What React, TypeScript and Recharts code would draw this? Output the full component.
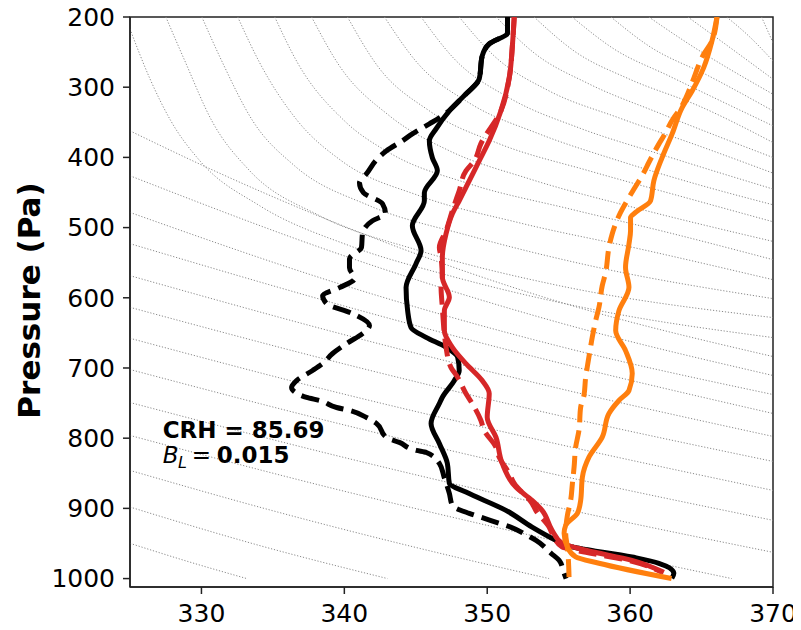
import React from 'react';
import { LineChart, Line, XAxis, YAxis, ReferenceArea } from 'recharts';

type Pt = [number, number]; // [MSE (K), pressure]

const xTicks = [330, 340, 350, 360, 370];
const pTicks = [200, 300, 400, 500, 600, 700, 800, 900, 1000];
const yLabel = 'Pressure (Pa)';
const crhText = 'CRH = 85.69';
const blText = '0.015';

const blackSolid: Pt[] = [
  [351.42, 200], [351.42, 222.3], [350.14, 238.4], [349.65, 255.5], [349.44, 288.2],
  [348.51, 309.5], [347.35, 333.7], [346.42, 359.3], [345.95, 376.4], [346.16, 400.6],
  [346.51, 419.1], [345.6, 450.4], [345.6, 461.8], [344.76, 497.3], [345.37, 532.9],
  [345.02, 551.4], [344.32, 585.5], [344.43, 618.3], [344.67, 642.5], [345.72, 656.3],
  [347.12, 670.5], [347.93, 684.7], [348.04, 703.6], [347.7, 717.9], [346.86, 741.6],
  [346.65, 750.6], [346.07, 779.0], [346.65, 807.5], [347.21, 835.9], [347.35, 864.4],
  [348.51, 876.8], [351.31, 902.8], [353.14, 926.6], [354.8, 945.5], [355.5, 952.6],
  [360.13, 969.3], [362.01, 978.2], [363.06, 992.4], [362.92, 999.5],
];

const blackDashed: Pt[] = [
  [351.42, 200], [351.42, 222.3], [350.14, 238.4], [349.65, 255.5], [349.44, 288.2],
  [348.4, 312], [346.65, 343.7], [345.95, 352.2], [344.76, 366.5], [344.06, 376.4],
  [342.95, 390.6], [342.32, 402.0], [341.55, 423.4], [341.06, 436.2], [341.34, 450.4],
  [342.67, 466.0], [342.88, 480.3], [341.97, 490.2], [341.27, 508.7], [341.2, 528.2],
  [340.36, 544.3], [340.36, 557.1], [340.71, 572.7], [339.66, 585.5], [338.48, 596.9],
  [338.76, 608.3], [340.57, 622.5], [341.76, 639.6], [341.27, 651.0], [340.15, 665.2],
  [339.18, 679.4], [338.48, 693.7], [337.78, 703.6], [336.66, 717.9], [336.31, 727.8],
  [337.36, 742.0], [338.27, 746.3], [339.46, 756.3], [340.36, 760.5], [341.55, 770.5],
  [342.25, 779.0], [342.95, 798.9], [343.85, 806.0], [345.04, 817.4], [345.74, 820.3],
  [346.65, 835.9], [346.99, 855.8], [347.35, 878.6], [347.56, 895.7], [348.74, 907.1],
  [349.58, 912.8], [350.84, 921.3], [351.68, 927.0], [352.79, 938.4], [353.42, 945.5],
  [354.47, 964.0], [355.03, 974.0], [355.38, 992.5], [355.52, 1000],
];

const redSolid: Pt[] = [
  [351.89, 200], [351.77, 238.4], [351.54, 286.8], [350.96, 333.7], [350.14, 376.4],
  [349.44, 404.9], [348.51, 442.8], [348.04, 461.8], [347.56, 480.3], [347.12, 508.7],
  [346.86, 542.4], [346.86, 570.9], [347.35, 599.3], [347.0, 618.3], [347.0, 646.7],
  [347.56, 670.5], [348.51, 693.7], [349.65, 717.9], [350.14, 736.3], [350.0, 770.1],
  [350.61, 798.5], [351.05, 835.9], [352.0, 869.7], [353.14, 888.6], [353.84, 902.8],
  [354.54, 931.3], [355.24, 949.7], [356.91, 959.7], [360.13, 974.0], [362.36, 991.0],
];

const redDashed: Pt[] = [
  [351.89, 200], [351.77, 238.4], [351.54, 286.8], [350.96, 333.7], [349.55, 380.7],
  [349.09, 404.9], [348.51, 419.1], [348.04, 447.5], [347.56, 476.0], [347.12, 504.5],
  [346.65, 528.2], [346.77, 542.4], [346.86, 570.9], [346.77, 585.1], [346.86, 613.6],
  [347.0, 651.0], [347.12, 670.5], [347.46, 699.0], [347.93, 713.2], [348.51, 736.3],
  [348.95, 750.6], [349.56, 774.8], [349.79, 789.0], [350.61, 812.7], [350.84, 827.0],
  [351.54, 850.2], [351.89, 864.4], [353.14, 892.8], [353.4, 902.8], [354.33, 926.6],
  [354.54, 935.5], [355.24, 955.0], [356.91, 962.5], [360.13, 975.4], [362.22, 991.0],
];

const orangeSolid: Pt[] = [
  [366.08, 200], [365.73, 234.1], [365.15, 272.1], [364.34, 305.3], [363.64, 329.0],
  [362.94, 366.5], [362.24, 400.2], [361.66, 433.3], [361.43, 461.8], [360.38, 478.4],
  [360.03, 485.5], [360.03, 504.5], [359.92, 523.4], [359.68, 556.7], [359.92, 585.1],
  [359.22, 618.3], [358.99, 646.7], [359.68, 675.2], [360.15, 707.9], [359.92, 732.1],
  [359.22, 746.3], [358.52, 764.8], [358.05, 798.5], [357.12, 827.0], [356.66, 855.4],
  [356.54, 888.6], [356.31, 907.1], [355.49, 924.1], [355.38, 935.5], [355.61, 955.0],
  [356.19, 969.2], [357.82, 978.2], [362.9, 1000],
];

const orangeDashed: Pt[] = [
  [366.08, 200], [365.73, 234.1], [365.15, 253.1], [364.34, 293.5], [364.11, 305.3],
  [363.41, 333.7], [363.06, 343.3], [362.36, 369.3], [362.01, 381.1], [361.31, 407.3],
  [360.96, 421.5], [360.27, 445.1], [359.92, 457.1], [359.22, 483.1], [358.75, 508.7],
  [358.52, 528.2], [358.29, 563.8], [358.05, 582.7], [357.82, 613.6], [357.59, 632.5],
  [357.35, 656.3], [357.23, 670.5], [357.0, 698.9], [356.89, 713.2], [356.77, 739.2],
  [356.54, 755.8], [356.42, 789.0], [356.19, 812.7], [356.08, 841.2], [355.96, 864.8],
  [355.84, 888.6], [355.61, 909.9], [355.49, 935.9], [355.61, 955.0], [355.73, 1000],
];

const guideCurves: Pt[][] = [
  [[325.0, 949.8], [329.09, 975.9], [333.17, 1000]],
  [[325.0, 898.1], [334.01, 952.6], [343.02, 1000]],
  [[325.0, 845.9], [334.78, 902.2], [344.55, 953.4], [354.33, 1000]],
  [[325.0, 796.1], [338.97, 870.4], [352.93, 937.8], [367.11, 1000]],
  [[325.0, 749.2], [339.94, 827.3], [354.89, 898.4], [370, 962.6]],
  [[325.0, 702.2], [339.94, 780.9], [354.89, 852.3], [370, 917.0]],
  [[325.0, 657.7], [339.94, 737.1], [354.89, 808.2], [370, 874.4]],
  [[325.0, 613.6], [339.94, 694.0], [354.89, 767.1], [370, 833.1]],
  [[325.0, 568.5], [339.94, 652.3], [354.89, 728.5], [370, 797.5]],
  [[325.0, 522.9], [339.94, 611.4], [354.89, 692.0], [370, 764.8]],
  [[325.0, 478.4], [339.94, 582.0], [354.89, 668.3], [370, 737.8]],
  [[325.0, 426.2], [339.94, 539.9], [354.89, 634.6], [370, 710.7]],
  [[325.0, 362.2], [330.59, 416.2], [339.94, 497.8], [354.89, 604.9], [370, 683.7]],
  [[325.0, 217.1], [326.4, 288.2], [327.86, 348.0], [329.89, 404.9], [334.08, 468.9], [340.36, 525.8], [347.35, 568.5], [357.82, 618.3], [370, 656.7]],
  [[327.51, 200], [328.84, 262.6], [330.73, 348.0], [333.38, 419.1], [338.27, 483.1], [345.25, 532.9], [355.03, 582.7], [370, 628.2]],
  [[330.03, 200], [331.42, 262.6], [333.59, 348.0], [336.52, 412.0], [341.76, 468.9], [348.74, 511.6], [357.82, 557.1], [370, 601.2]],
  [[332.54, 200], [334.08, 265.4], [336.73, 348.0], [339.8, 404.9], [345.25, 454.7], [352.23, 493.1], [360.61, 530.1], [370, 574.2]],
  [[335.13, 200], [336.73, 265.4], [340.01, 348.0], [343.16, 393.5], [348.74, 437.6], [355.73, 473.2], [362.71, 507.3], [370, 545.7]],
  [[337.71, 200], [339.66, 269.7], [343.16, 340.8], [347.35, 390.6], [352.93, 430.5], [360.61, 473.2], [370, 519.7]],
  [[340.22, 200], [342.32, 269.7], [345.95, 333.7], [350.84, 380.7], [357.12, 419.1], [363.41, 454.7], [370, 491.7]],
  [[342.81, 200], [345.11, 265.4], [348.74, 322.4], [353.63, 366.5], [359.22, 404.9], [364.8, 439.0], [370, 467.5]],
  [[345.37, 200], [347.7, 259.8], [351.54, 315.2], [356.42, 357.9], [362.01, 394.9], [370, 445.1]],
  [[348.04, 200], [350.49, 255.5], [354.33, 305.3], [359.22, 343.7], [364.8, 383.5], [370, 422.4]],
  [[350.63, 200], [353.28, 251.2], [357.12, 295.3], [362.01, 336.6], [370, 400.2]],
  [[353.28, 200], [356.08, 248.4], [359.92, 288.2], [364.8, 326.6], [370, 378.8]],
  [[355.94, 200], [358.87, 245.5], [362.71, 283.9], [370, 355.1]],
  [[358.66, 200], [361.31, 241.3], [365.5, 283.9], [370, 333.7]],
  [[361.31, 200], [364.11, 238.4], [370, 310.0]],
  [[364.04, 200], [366.55, 237.0], [370, 288.6]],
  [[366.76, 200], [368.3, 227.0], [370, 262.6]],
  [[369.2, 200], [370, 236.6]],
];

const toRows = (pts: Pt[]) => pts.map(([x, p]) => ({ x, p }));

const FONT = '"DejaVu Sans", sans-serif';
const RED = '#d62728';
const ORANGE = '#ff7f0e';
const LW = 5;
const DASH = '18 8';

export default function App() {
  const W = 790;
  const H = 630;
  const T = 17; // top margin (wrapper starts at page top)
  return (
    <div style={{ position: 'relative', width: W, height: H, marginTop: -8, fontFamily: FONT }}>
      <LineChart width={W} height={H} margin={{ top: T, right: 25, bottom: 1, left: 0 }}>
        <XAxis
          type="number"
          dataKey="x"
          domain={[325, 370]}
          ticks={xTicks}
          interval={0}
          allowDataOverflow
          height={42}
          tickSize={7}
          tickMargin={10}
          tick={{ fontSize: 25, fill: '#000', fontFamily: FONT }}
          axisLine={{ stroke: '#222', strokeWidth: 1.5 }}
          tickLine={{ stroke: '#222', strokeWidth: 1.5 }}
        />
        <YAxis
          type="number"
          dataKey="p"
          domain={[200, 1012]}
          reversed
          ticks={pTicks}
          interval={0}
          allowDataOverflow
          width={122}
          tickSize={7}
          tickMargin={8}
          tick={{ fontSize: 25, fill: '#000', fontFamily: FONT }}
          axisLine={{ stroke: '#222', strokeWidth: 1.5 }}
          tickLine={{ stroke: '#222', strokeWidth: 1.5 }}
        />
        {guideCurves.map((c, i) => (
          <Line
            key={'g' + i}
            data={toRows(c)}
            dataKey="p"
            type="monotone"
            stroke="#8a8a8a"
            strokeWidth={1}
            strokeDasharray="1.2 1.8"
            dot={false}
            activeDot={false}
            isAnimationActive={false}
          />
        ))}
        <Line data={toRows(blackSolid)} dataKey="p" type="monotoneY" stroke="#000" strokeWidth={LW} dot={false} activeDot={false} isAnimationActive={false} />
        <Line data={toRows(blackDashed)} dataKey="p" type="monotoneY" stroke="#000" strokeWidth={LW} strokeDasharray={DASH} dot={false} activeDot={false} isAnimationActive={false} />
        <Line data={toRows(redSolid)} dataKey="p" type="monotoneY" stroke={RED} strokeWidth={LW} dot={false} activeDot={false} isAnimationActive={false} />
        <Line data={toRows(redDashed)} dataKey="p" type="monotoneY" stroke={RED} strokeWidth={LW} strokeDasharray={DASH} dot={false} activeDot={false} isAnimationActive={false} />
        <Line data={toRows(orangeSolid)} dataKey="p" type="monotoneY" stroke={ORANGE} strokeWidth={LW} dot={false} activeDot={false} isAnimationActive={false} />
        <Line data={toRows(orangeDashed)} dataKey="p" type="monotoneY" stroke={ORANGE} strokeWidth={LW} strokeDasharray={DASH} dot={false} activeDot={false} isAnimationActive={false} />
        <ReferenceArea x1={325} x2={370} y1={200} y2={1012} fill="none" stroke="#222" strokeWidth={1.5} ifOverflow="visible" />
      </LineChart>
      <svg width={W} height={H} style={{ position: 'absolute', left: 0, top: 0, pointerEvents: 'none' }}>
        <text
          transform="translate(21,300.5) rotate(-90)"
          textAnchor="middle"
          dominantBaseline="central"
          fontFamily={FONT}
          fontWeight="bold"
          fontSize={31}
          fill="#000"
        >
          {yLabel}
        </text>
        <text x={154.7} y={438} fontFamily={FONT} fontWeight="bold" fontSize={23} fill="#000">
          {crhText}
        </text>
        <text x={154.7} y={463} fontFamily={FONT} fontStyle="italic" fontSize={23} fill="#000">B</text>
        <text x={170} y={468} fontFamily={FONT} fontStyle="italic" fontSize={16} fill="#000">L</text>
        <text x={183.7} y={463} fontFamily={FONT} fontSize={23} fill="#000">=</text>
        <text x={208.7} y={463} fontFamily={FONT} fontWeight="bold" fontSize={23} fill="#000">
          {blText}
        </text>
      </svg>
    </div>
  );
}
